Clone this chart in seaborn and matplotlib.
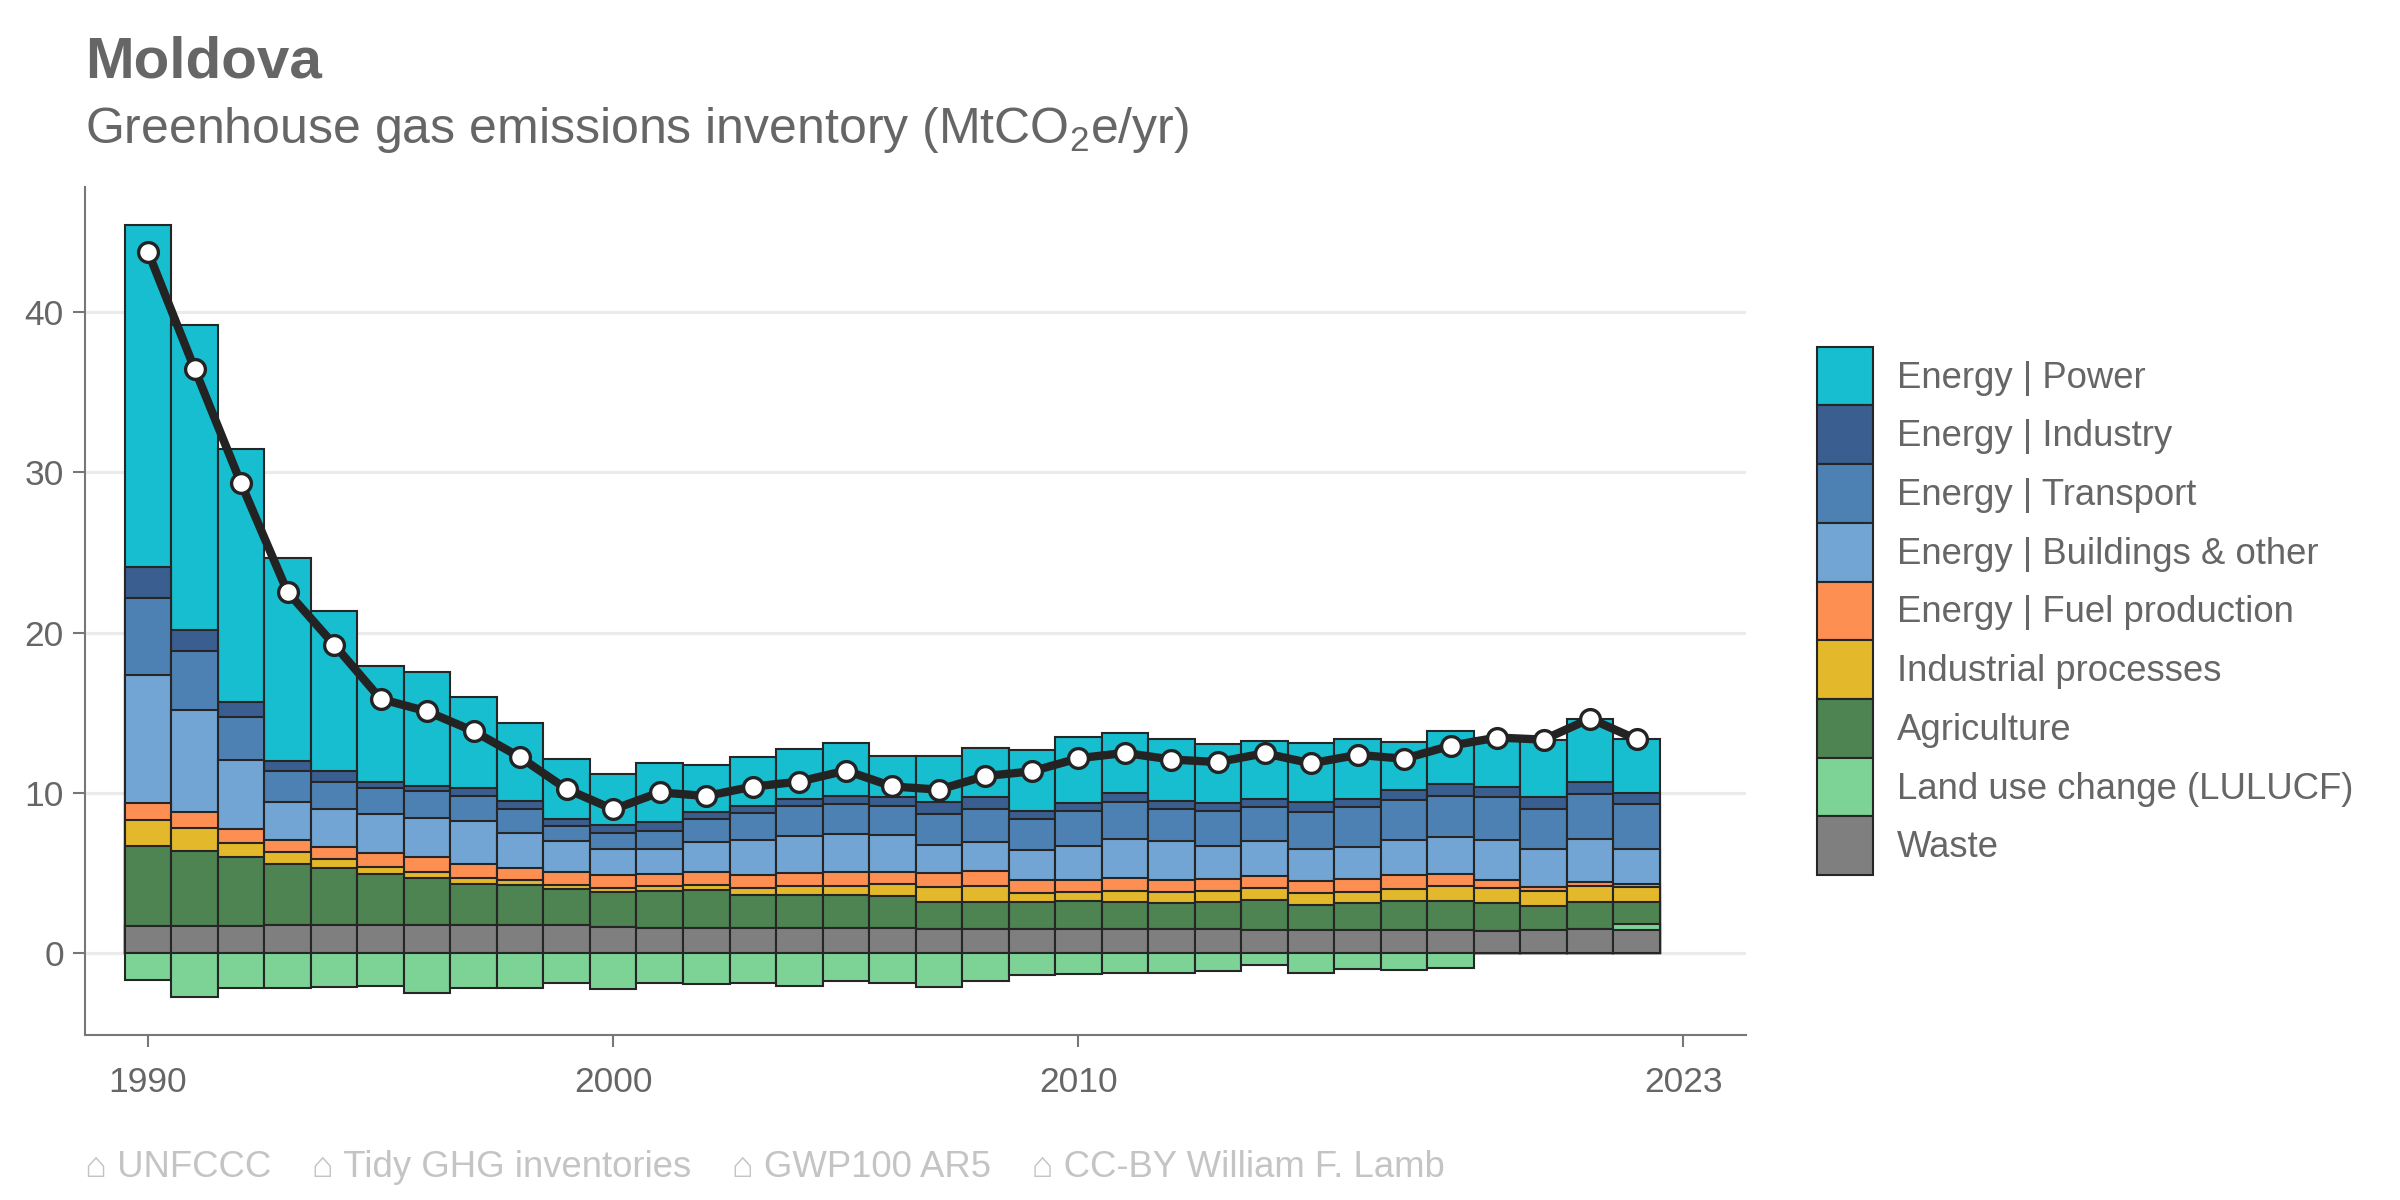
import matplotlib

matplotlib.use("Agg")
import matplotlib.pyplot as plt
import numpy as np
import pandas as pd
import seaborn as sns
from matplotlib.patches import Patch

years = list(range(1990, 2023))

power = [21.36, 18.99, 15.77, 12.68, 10.00, 7.19, 7.12, 5.66, 4.88, 3.73,
         3.19, 3.70, 2.96, 3.06, 3.13, 3.30, 2.52, 2.87, 3.02, 3.84,
         4.10, 3.75, 3.81, 3.65, 3.60, 3.68, 3.75, 2.98, 3.29, 3.10,
         3.58, 3.95, 3.35]
industry = [1.93, 1.32, 0.94, 0.61, 0.68, 0.37, 0.34, 0.51, 0.51, 0.40,
            0.52, 0.57, 0.41, 0.42, 0.41, 0.52, 0.60, 0.73, 0.77, 0.48,
            0.53, 0.54, 0.52, 0.53, 0.48, 0.63, 0.52, 0.63, 0.77, 0.62,
            0.73, 0.77, 0.71]
transport = [4.81, 3.73, 2.68, 1.93, 1.70, 1.63, 1.63, 1.56, 1.45, 0.95,
             0.98, 1.10, 1.42, 1.67, 1.88, 1.87, 1.77, 1.94, 2.08, 1.94,
             2.14, 2.33, 2.02, 2.14, 2.17, 2.29, 2.50, 2.50, 2.56, 2.65,
             2.49, 2.77, 2.76]
buildings = [7.97, 6.34, 4.31, 2.38, 2.34, 2.47, 2.47, 2.68, 2.21, 1.97,
             1.60, 1.56, 1.86, 2.18, 2.33, 2.34, 2.36, 1.77, 1.77, 1.88,
             2.15, 2.44, 2.42, 2.08, 2.19, 1.98, 1.98, 2.19, 2.29, 2.50,
             2.39, 2.70, 2.18]
fuel_production = [1.09, 0.98, 0.88, 0.74, 0.78, 0.88, 0.95, 0.88, 0.74, 0.81,
                   0.80, 0.77, 0.83, 0.84, 0.83, 0.89, 0.73, 0.83, 0.94, 0.83,
                   0.71, 0.79, 0.77, 0.73, 0.69, 0.77, 0.78, 0.84, 0.77, 0.52,
                   0.25, 0.27, 0.21]
industrial = [1.62, 1.42, 0.85, 0.78, 0.54, 0.41, 0.37, 0.37, 0.34, 0.24,
              0.27, 0.27, 0.33, 0.41, 0.52, 0.56, 0.73, 0.98, 1.00, 0.52,
              0.58, 0.69, 0.67, 0.73, 0.77, 0.73, 0.73, 0.77, 0.90, 0.94,
              0.94, 0.98, 0.94]
agriculture = [4.99, 4.72, 4.34, 3.80, 3.56, 3.19, 2.92, 2.58, 2.48, 2.24,
               2.18, 2.30, 2.34, 2.09, 2.09, 2.09, 2.02, 1.63, 1.67, 1.67,
               1.77, 1.71, 1.63, 1.67, 1.89, 1.58, 1.68, 1.83, 1.83, 1.73,
               1.47, 1.66, 1.35]
lulucf = [-1.69, -2.71, -2.14, -2.14, -2.10, -2.03, -2.47, -2.14, -2.14, -1.86,
          -2.21, -1.83, -1.94, -1.83, -2.04, -1.73, -1.88, -2.08, -1.73, -1.35,
          -1.31, -1.25, -1.25, -1.10, -0.75, -1.25, -1.00, -1.04, -0.90, 0.0,
          0.0, 0.0, 0.42]
waste = [1.69, 1.69, 1.69, 1.76, 1.76, 1.76, 1.76, 1.76, 1.76, 1.76,
         1.65, 1.60, 1.60, 1.56, 1.56, 1.56, 1.56, 1.54, 1.54, 1.54,
         1.50, 1.50, 1.50, 1.50, 1.44, 1.44, 1.44, 1.44, 1.44, 1.40,
         1.48, 1.54, 1.43]

sectors = [
    "Energy | Power",
    "Energy | Industry",
    "Energy | Transport",
    "Energy | Buildings & other",
    "Energy | Fuel production",
    "Industrial processes",
    "Agriculture",
    "Land use change (LULUCF)",
    "Waste",
]
colors = ["#17becf", "#3a5e8f", "#4e81b3", "#72a5d3", "#fe8f52",
          "#e3b82b", "#4e8452", "#7dd396", "#7f7f7f"]
x_ticks = [1990, 2000, 2010, 2023]
caption = ("\u2302 UNFCCC    \u2302 Tidy GHG inventories    "
           "\u2302 GWP100 AR5    \u2302 CC-BY William F. Lamb")

df = pd.DataFrame({
    "year": years,
    sectors[0]: power,
    sectors[1]: industry,
    sectors[2]: transport,
    sectors[3]: buildings,
    sectors[4]: fuel_production,
    sectors[5]: industrial,
    sectors[6]: agriculture,
    sectors[7]: lulucf,
    sectors[8]: waste,
})
df["total"] = df[sectors].sum(axis=1)

sns.set_theme(style="white")
plt.rcParams["font.family"] = ["Liberation Sans", "DejaVu Sans"]
plt.rcParams["mathtext.fontset"] = "custom"
plt.rcParams["mathtext.rm"] = "Liberation Sans"
plt.rcParams["mathtext.default"] = "regular"

text_grey = "#666666"
edge = "#262626"

fig = plt.figure(figsize=(16, 8), dpi=150)
ax = fig.add_axes([0.0355, 0.1375, 0.692, 0.7065])

# positive stack, bottom (Waste) to top (Power); LULUCF only when positive
stack_order = sectors[::-1]
pos = df[stack_order].copy()
pos[sectors[7]] = pos[sectors[7]].clip(lower=0)
cum = pos.cumsum(axis=1)

# draw the tallest cumulative layer first so the lower ones overlay it
for name, col in zip(sectors, colors):
    sns.barplot(x=df["year"], y=cum[name], native_scale=True, width=1.0,
                color=col, saturation=1, edgecolor=edge, linewidth=1.0,
                errorbar=None, ax=ax)

neg = df[df[sectors[7]] < 0]
sns.barplot(x=neg["year"], y=neg[sectors[7]], native_scale=True, width=1.0,
            color=colors[7], saturation=1, edgecolor=edge, linewidth=1.0,
            errorbar=None, ax=ax)

sns.lineplot(x=df["year"], y=df["total"], color="#232323", linewidth=4.0,
             marker="o", markersize=9.5, markerfacecolor="white",
             markeredgecolor="#232323", markeredgewidth=1.6, zorder=10, ax=ax)

ax.set_xlim(1988.65, 2024.35)
ax.set_ylim(-5.1, 47.8)
ax.set_xticks(x_ticks)
ax.set_xticklabels([str(t) for t in x_ticks])
ax.set_yticks([0, 10, 20, 30, 40])
ax.set_xlabel("")
ax.set_ylabel("")
ax.yaxis.grid(True, color="#ebebeb", linewidth=1.5)
ax.xaxis.grid(False)
ax.set_axisbelow(True)
for side in ["top", "right"]:
    ax.spines[side].set_visible(False)
for side in ["left", "bottom"]:
    ax.spines[side].set_color("#777777")
    ax.spines[side].set_linewidth(1.0)
ax.tick_params(axis="both", which="major", length=5.7, width=1.0, color="#777777",
               labelsize=17, labelcolor=text_grey, direction="out",
               bottom=True, left=True)
ax.tick_params(axis="x", pad=9)
ax.tick_params(axis="y", pad=4.5)

handles = [Patch(facecolor=c, edgecolor=edge, linewidth=1.0) for c in colors]
fig.legend(handles, sectors, loc="upper left", bbox_to_anchor=(0.757, 0.711),
           frameon=False, fontsize=17.5, labelcolor=text_grey, handlelength=1.54,
           handleheight=2.1, labelspacing=0.0, handletextpad=0.65,
           borderpad=0, borderaxespad=0)

fig.text(0.0355, 0.948, "Moldova", fontsize=28, fontweight="bold",
         color=text_grey, va="center", ha="left")
fig.text(0.0355, 0.892, "Greenhouse gas emissions inventory (MtCO$_2$e/yr)",
         fontsize=24, color=text_grey, va="center", ha="left")
fig.text(0.0355, 0.027, caption, fontsize=17.5, color="#c4c4c4",
         va="center", ha="left")

fig.savefig("out.png", dpi=150)
